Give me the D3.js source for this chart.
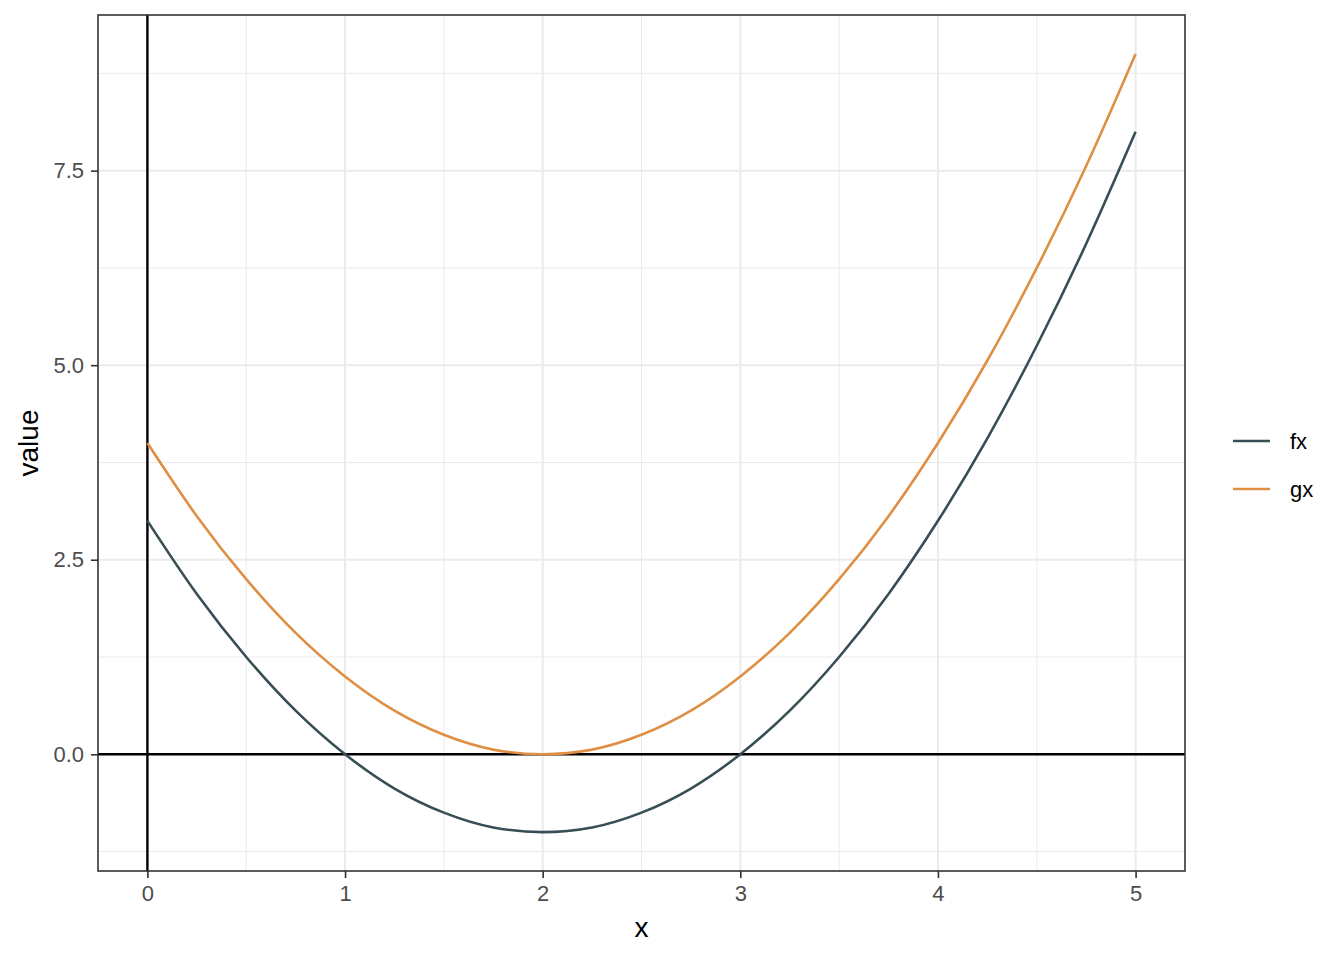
<!DOCTYPE html>
<html>
<head>
<meta charset="utf-8">
<script src="https://cdn.jsdelivr.net/npm/d3@7"></script>
<style>
body { margin: 0; background: #fff; }
text { font-family: "Liberation Sans", Arial, sans-serif; }
</style>
</head>
<body>
<div id="chart"></div>
<script>
// values
var xs = [0, 0.25, 0.5, 0.75, 1, 1.25, 1.5, 1.75, 2, 2.25, 2.5, 2.75, 3, 3.25, 3.5, 3.75, 4, 4.25, 4.5, 4.75, 5];
var fx = [3, 2.06, 1.25, 0.56, 0, -0.44, -0.75, -0.94, -1, -0.94, -0.75, -0.44, 0, 0.56, 1.25, 2.06, 3, 4.06, 5.25, 6.56, 8];
var gx = [4, 3.06, 2.25, 1.56, 1, 0.56, 0.25, 0.06, 0, 0.06, 0.25, 0.56, 1, 1.56, 2.25, 3.06, 4, 5.06, 6.25, 7.56, 9];
var seriesNames = ['fx', 'gx'];
var seriesColors = ['#374E55', '#DF8F44'];
var xTicks = [0, 1, 2, 3, 4, 5];
var yTicks = [0, 2.5, 5, 7.5];
var xMinor = [0.5, 1.5, 2.5, 3.5, 4.5];
var yMinor = [-1.25, 1.25, 3.75, 6.25, 8.75];

var W = 1344, H = 960;
var margin = {top: 15, right: 159, bottom: 89, left: 98};
var width = W - margin.left - margin.right,
    height = H - margin.top - margin.bottom;

var svg = d3.select('#chart').append('svg')
    .attr('width', W).attr('height', H);
var g = svg.append('g').attr('transform', 'translate(' + margin.left + ',' + margin.top + ')');

var x = d3.scaleLinear().domain([-0.25, 5.25]).range([0, width]);
var y = d3.scaleLinear().domain([-1.5, 9.5]).range([height, 0]);

// grid
g.selectAll('.xminor').data(xMinor).enter().append('line')
    .attr('x1', d => x(d)).attr('x2', d => x(d)).attr('y1', 0).attr('y2', height)
    .style('stroke', '#EBEBEB').style('stroke-width', 1);
g.selectAll('.yminor').data(yMinor).enter().append('line')
    .attr('y1', d => y(d)).attr('y2', d => y(d)).attr('x1', 0).attr('x2', width)
    .style('stroke', '#EBEBEB').style('stroke-width', 1);
g.selectAll('.xmajor').data(xTicks).enter().append('line')
    .attr('x1', d => x(d)).attr('x2', d => x(d)).attr('y1', 0).attr('y2', height)
    .style('stroke', '#EBEBEB').style('stroke-width', 2);
g.selectAll('.ymajor').data(yTicks).enter().append('line')
    .attr('y1', d => y(d)).attr('y2', d => y(d)).attr('x1', 0).attr('x2', width)
    .style('stroke', '#EBEBEB').style('stroke-width', 2);

// reference lines
g.append('line').attr('x1', 0).attr('x2', width).attr('y1', y(0)).attr('y2', y(0))
    .style('stroke', '#000').style('stroke-width', 2.4);
g.append('line').attr('x1', x(0)).attr('x2', x(0)).attr('y1', 0).attr('y2', height)
    .style('stroke', '#000').style('stroke-width', 2.4);

// curves
var line = d3.line().x(d => x(d[0])).y(d => y(d[1])).curve(d3.curveMonotoneX);
[fx, gx].forEach(function(vals, i) {
    g.append('path')
        .datum(xs.map((v, j) => [v, vals[j]]))
        .attr('d', line)
        .style('fill', 'none')
        .style('stroke', seriesColors[i])
        .style('stroke-width', 2.6);
});

// panel border
g.append('rect').attr('width', width).attr('height', height)
    .style('fill', 'none').style('stroke', '#333333').style('stroke-width', 1.6);

// axes
var xAxis = g.append('g').attr('transform', 'translate(0,' + height + ')')
    .call(d3.axisBottom(x).tickValues(xTicks).tickFormat(d3.format('d')).tickSize(7).tickPadding(7));
var yAxis = g.append('g')
    .call(d3.axisLeft(y).tickValues(yTicks).tickFormat(d3.format('.1f')).tickSize(7).tickPadding(7));
[xAxis, yAxis].forEach(function(a) {
    a.select('.domain').remove();
    a.selectAll('line').style('stroke', '#333333').style('stroke-width', 1.6);
    a.selectAll('text').style('fill', '#4D4D4D').style('font-size', '22px')
        .style('font-family', '"Liberation Sans", Arial, sans-serif');
});

// axis titles
svg.append('text').attr('x', margin.left + width / 2).attr('y', 937)
    .attr('text-anchor', 'middle').style('font-size', '28px').text('x');
svg.append('text').attr('transform', 'translate(38,' + (margin.top + height / 2) + ') rotate(-90)')
    .attr('text-anchor', 'middle').style('font-size', '28px').text('value');

// legend
var legend = svg.append('g').attr('transform', 'translate(1233,441)');
seriesNames.forEach(function(name, i) {
    legend.append('line').attr('x1', 0).attr('x2', 37).attr('y1', i * 48).attr('y2', i * 48)
        .style('stroke', seriesColors[i]).style('stroke-width', 2.6);
    legend.append('text').attr('x', 57).attr('y', i * 48 + 7.5)
        .style('font-size', '22px').style('fill', '#000').text(name);
});
</script>
</body>
</html>
